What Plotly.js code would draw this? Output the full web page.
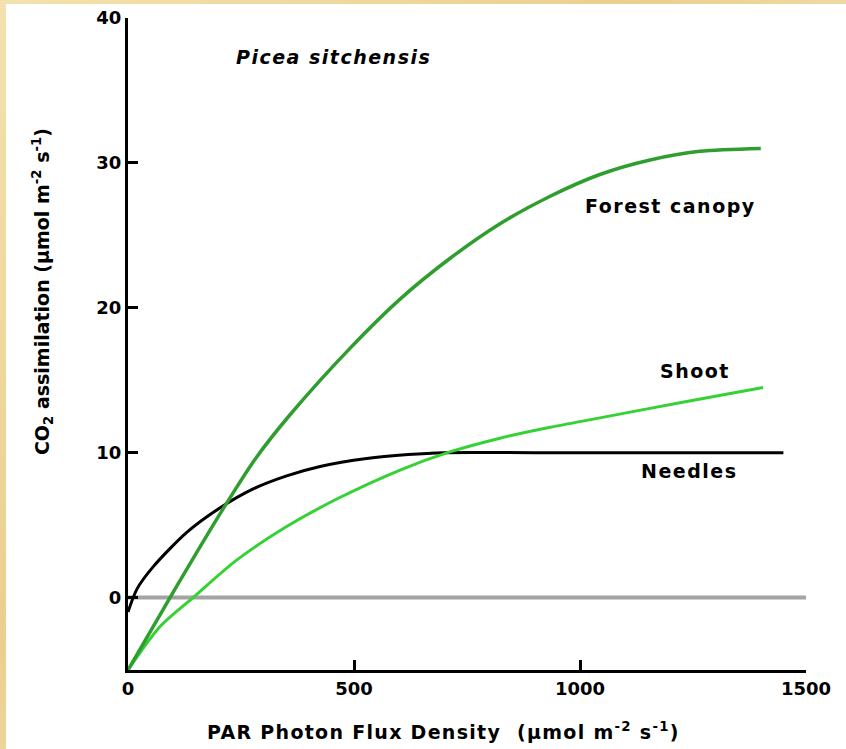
<!DOCTYPE html>
<html>
<head>
<meta charset="utf-8">
<script src="https://cdn.plot.ly/plotly-3.0.1.min.js"></script>
<style>
  html, body { margin: 0; padding: 0; width: 846px; height: 749px; overflow: hidden;
    background: linear-gradient(135deg, #f3e2ae 0%, #ead08e 40%, #f5e6b8 70%, #e9cf8a 100%); }
  #chart { position: absolute; left: 6px; top: 4px; width: 840px; height: 745px; background: #fff; }
</style>
</head>
<body>
<div id="chart"></div>
<script>
// Data
const needlesX = [0, 20, 55, 130, 204, 277, 351, 425, 528, 620, 700, 900, 1200, 1450];
const needlesY = [-1, 0.6, 2.1, 4.5, 6.2, 7.5, 8.4, 9.05, 9.6, 9.87, 10, 10, 10, 10];

const canopyX = [0, 93, 210, 280, 358, 491, 602, 712, 823, 934, 1044, 1155, 1265, 1400];
const canopyY = [-5, 0, 6.1, 9.5, 12.6, 17.2, 20.6, 23.4, 25.8, 27.7, 29.2, 30.2, 30.8, 31.0];

const shootX = [0, 71, 144, 241, 351, 462, 602, 712, 823, 934, 1044, 1221, 1405];
const shootY = [-5, -2.0, 0, 2.6, 4.9, 6.8, 8.8, 10.05, 11.0, 11.75, 12.4, 13.45, 14.5];

const zeroX = [0, 1500];
const zeroY = [0, 0];

const xTicks = [0, 500, 1000, 1500];
const yTicks = [0, 10, 20, 30, 40];

const seriesLabels = [
  {text: 'Forest canopy', x: 1201, y: 27.0},
  {text: 'Shoot', x: 1254, y: 15.65},
  {text: 'Needles', x: 1241, y: 8.76}
];

const FONT = '"DejaVu Sans", Verdana, sans-serif';
const sp = (t, s) => '<span style="letter-spacing:' + s + 'px">' + t + '</span>';

const traces = [
  {x: zeroX, y: zeroY, mode: 'lines', line: {color: '#a3a3a3', width: 4}, hoverinfo: 'skip'},
  {x: needlesX, y: needlesY, mode: 'lines', line: {color: '#000000', width: 3, shape: 'spline', smoothing: 0.8}},
  {x: shootX, y: shootY, mode: 'lines', line: {color: '#35d135', width: 3, shape: 'spline', smoothing: 0.8}},
  {x: canopyX, y: canopyY, mode: 'lines', line: {color: '#2f9e2f', width: 3.5, shape: 'spline', smoothing: 0.8}}
];

const annotations = seriesLabels.map(l => ({
  x: l.x, y: l.y, xref: 'x', yref: 'y', text: sp(l.text, 1.5), showarrow: false,
  font: {family: FONT, size: 19, color: '#000', weight: 'bold'}
}));
annotations.push({
  x: 454, y: 37.3, xref: 'x', yref: 'y', text: '<i>' + sp('Picea sitchensis', 1.5) + '</i>', showarrow: false,
  font: {family: FONT, size: 19, color: '#000', weight: 'bold'}
});
annotations.push({
  x: 0.465, y: -0.094, xref: 'paper', yref: 'paper', xanchor: 'center', yanchor: 'middle',
  text: sp('PAR Photon Flux Density  (μmol m<sup>-2</sup> s<sup>-1</sup>)', 1.3), showarrow: false,
  font: {family: FONT, size: 19, color: '#000', weight: 'bold'}
});
annotations.push({
  x: -0.125, y: 0.58, xref: 'paper', yref: 'paper', xanchor: 'center', yanchor: 'middle', textangle: -90,
  text: 'CO<sub>2</sub> assimilation (μmol m<sup>-2</sup> s<sup>-1</sup>)', showarrow: false,
  font: {family: FONT, size: 19, color: '#000', weight: 'bold'}
});

const layout = {
  width: 840, height: 745,
  margin: {l: 122, r: 40, t: 14, b: 79},
  paper_bgcolor: '#ffffff', plot_bgcolor: '#ffffff',
  showlegend: false,
  xaxis: {
    range: [0, 1500], tickvals: xTicks, ticktext: xTicks.map(String),
    showgrid: false, zeroline: false, showline: true, linecolor: '#000', linewidth: 3,
    ticks: 'inside', ticklen: 10, tickwidth: 3, tickcolor: '#000',
    tickfont: {family: FONT, size: 18, color: '#000', weight: 'bold'}
  },
  yaxis: {
    range: [-5, 40], tickvals: yTicks, ticktext: yTicks.map(String),
    showgrid: false, zeroline: false, showline: true, linecolor: '#000', linewidth: 3,
    ticks: 'inside', ticklen: 10, tickwidth: 3, tickcolor: '#000',
    tickfont: {family: FONT, size: 18, color: '#000', weight: 'bold'}
  },
  annotations: annotations
};

Plotly.newPlot('chart', traces, layout, {displayModeBar: false, staticPlot: true});
</script>
</body>
</html>
